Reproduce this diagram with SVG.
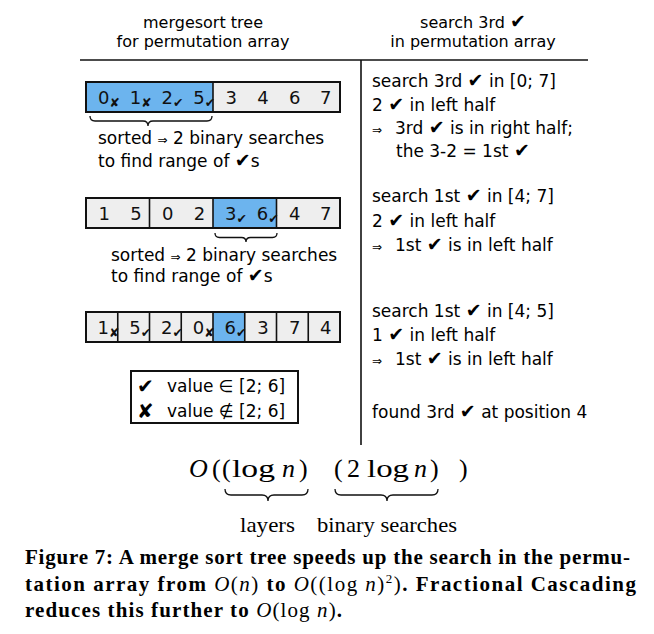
<svg xmlns="http://www.w3.org/2000/svg" width="654" height="634" viewBox="0 0 654 634">
<style>
.t{font-family:"DejaVu Sans",Verdana,sans-serif;font-size:17px;fill:#000}
.h{font-family:"DejaVu Sans",Verdana,sans-serif;font-size:16px;fill:#000}
.d{font-family:"DejaVu Sans",Verdana,sans-serif;font-size:18px;fill:#111}
.sub{font-size:12.5px}
.ck{font-size:19px}
.lk{font-size:20px}
.ar{font-size:12px}
.cell{fill:#eeeeee}
.blue{fill:#6cb4ee}
.box{fill:none;stroke:#111;stroke-width:2}
.div{stroke:#111;stroke-width:1.6}
.brace{fill:none;stroke:#111;stroke-width:1.3}
.m{font-family:"Liberation Serif","Times New Roman",serif;font-size:26px;fill:#000}
.i{font-style:italic}
.lbl{font-family:"Liberation Serif","Times New Roman",serif;font-size:21px;fill:#000}
.cap{font-family:"Liberation Serif","Times New Roman",serif;font-size:21px;font-weight:bold;fill:#000}
.nb{font-weight:normal}
</style>
<g id="headers">
<text class="h" x="203" y="28" text-anchor="middle">mergesort tree</text>
<text class="h" x="203" y="47" text-anchor="middle">for permutation array</text>
<text class="h" x="473" y="28" text-anchor="middle">search 3rd <tspan class="ck">✔</tspan></text>
<text class="h" x="473" y="47" text-anchor="middle">in permutation array</text>
</g>
<g id="connectors">
<line x1="80" y1="60" x2="588" y2="60" stroke="#111" stroke-width="1.6"/>
<line x1="361" y1="60" x2="361" y2="445" stroke="#111" stroke-width="1.6"/>
<path class="brace" d="M90,116 q0,5 5,5 h48 q5,0 5,5 q0,-5 5,-5 h54 q5,0 5,-5"/>
<path class="brace" d="M215,233 q0,4.5 4.5,4.5 h22 q4.5,0 4.5,4.5 q0,-4.5 4.5,-4.5 h22 q4.5,0 4.5,-4.5"/>
<path class="brace" d="M225,489 q0,6 6,6 h31 q6,0 6,6 q0,-6 6,-6 h28 q6,0 6,-6"/>
<path class="brace" d="M335,489 q0,6 6,6 h40 q6,0 6,6 q0,-6 6,-6 h39 q6,0 6,-6"/>
</g>
<g id="row1">
<rect class="cell" x="86" y="82" width="254" height="30"/>
<rect class="blue" x="86" y="82" width="127" height="30"/>
<rect class="box" x="86" y="82" width="254" height="30"/>
<line class="div" x1="213" y1="82" x2="213" y2="112"/>
<text class="d" x="98" y="103.5">0<tspan class="sub" dy="3">✘</tspan></text>
<text class="d" x="129.75" y="103.5">1<tspan class="sub" dy="3">✘</tspan></text>
<text class="d" x="161.5" y="103.5">2<tspan class="sub" dy="3">✔</tspan></text>
<text class="d" x="193.25" y="103.5">5<tspan class="sub" dy="3">✔</tspan></text>
<text class="d" x="225.5" y="103.5">3</text>
<text class="d" x="257.25" y="103.5">4</text>
<text class="d" x="289" y="103.5">6</text>
<text class="d" x="320" y="103.5">7</text>
<text class="t" x="98" y="144">sorted <tspan class="ar">⇒</tspan> 2 binary searches</text>
<text class="t" x="98" y="167">to find range of <tspan class="ck">✔</tspan>s</text>
</g>
<g id="row2">
<rect class="cell" x="86" y="198" width="254" height="30"/>
<rect class="blue" x="213" y="198" width="63.5" height="30"/>
<rect class="box" x="86" y="198" width="254" height="30"/>
<line class="div" x1="149.5" y1="198" x2="149.5" y2="228"/>
<line class="div" x1="213" y1="198" x2="213" y2="228"/>
<line class="div" x1="276.5" y1="198" x2="276.5" y2="228"/>
<text class="d" x="98.5" y="219.5">1</text>
<text class="d" x="130.25" y="219.5">5</text>
<text class="d" x="162" y="219.5">0</text>
<text class="d" x="193.75" y="219.5">2</text>
<text class="d" x="225" y="219.5">3<tspan class="sub" dy="3">✔</tspan></text>
<text class="d" x="256.75" y="219.5">6<tspan class="sub" dy="3">✔</tspan></text>
<text class="d" x="289" y="219.5">4</text>
<text class="d" x="320" y="219.5">7</text>
<text class="t" x="111" y="261">sorted <tspan class="ar">⇒</tspan> 2 binary searches</text>
<text class="t" x="111" y="282">to find range of <tspan class="ck">✔</tspan>s</text>
</g>
<g id="row3">
<rect class="cell" x="86" y="312" width="254" height="30"/>
<rect class="blue" x="213" y="312" width="31.75" height="30"/>
<rect class="box" x="86" y="312" width="254" height="30"/>
<line class="div" x1="117.75" y1="312" x2="117.75" y2="342"/>
<line class="div" x1="149.5" y1="312" x2="149.5" y2="342"/>
<line class="div" x1="181.25" y1="312" x2="181.25" y2="342"/>
<line class="div" x1="213" y1="312" x2="213" y2="342"/>
<line class="div" x1="244.75" y1="312" x2="244.75" y2="342"/>
<line class="div" x1="276.5" y1="312" x2="276.5" y2="342"/>
<line class="div" x1="308.25" y1="312" x2="308.25" y2="342"/>
<text class="d" x="97.5" y="333.5">1<tspan class="sub" dy="3">✘</tspan></text>
<text class="d" x="129.25" y="333.5">5<tspan class="sub" dy="3">✔</tspan></text>
<text class="d" x="161" y="333.5">2<tspan class="sub" dy="3">✔</tspan></text>
<text class="d" x="192.75" y="333.5">0<tspan class="sub" dy="3">✘</tspan></text>
<text class="d" x="224.5" y="333.5">6<tspan class="sub" dy="3">✔</tspan></text>
<text class="d" x="257.25" y="333.5">3</text>
<text class="d" x="289" y="333.5">7</text>
<text class="d" x="320" y="333.5">4</text>
</g>
<g id="legend">
<rect class="box" x="131" y="371" width="167" height="52"/>
<text class="t" x="137" y="393"><tspan class="lk">✔</tspan></text>
<text class="t" x="167" y="392">value ∈ [2; 6]</text>
<text class="t" x="137" y="418"><tspan class="lk">✘</tspan></text>
<text class="t" x="167" y="417">value ∉ [2; 6]</text>
</g>
<g id="search-steps">
<text class="t" x="372" y="87">search 3rd <tspan class="ck">✔</tspan> in [0; 7]</text>
<text class="t" x="372" y="110.5">2 <tspan class="ck">✔</tspan> in left half</text>
<text class="t" x="372" y="134"><tspan class="ar">⇒</tspan></text>
<text class="t" x="395" y="134">3rd <tspan class="ck">✔</tspan> is in right half;</text>
<text class="t" x="396" y="157">the 3-2 = 1st <tspan class="ck">✔</tspan></text>
<text class="t" x="372" y="202">search 1st <tspan class="ck">✔</tspan> in [4; 7]</text>
<text class="t" x="372" y="226.5">2 <tspan class="ck">✔</tspan> in left half</text>
<text class="t" x="372" y="251"><tspan class="ar">⇒</tspan></text>
<text class="t" x="395" y="251">1st <tspan class="ck">✔</tspan> is in left half</text>
<text class="t" x="372" y="317">search 1st <tspan class="ck">✔</tspan> in [4; 5]</text>
<text class="t" x="372" y="341">1 <tspan class="ck">✔</tspan> in left half</text>
<text class="t" x="372" y="365"><tspan class="ar">⇒</tspan></text>
<text class="t" x="395" y="365">1st <tspan class="ck">✔</tspan> is in left half</text>
<text class="t" x="372" y="418">found 3rd <tspan class="ck">✔</tspan> at position 4</text>
</g>
<g id="formula">
<text class="m i" x="189" y="477">O</text>
<text class="m" x="212" y="477">(</text>
<text class="m" x="222" y="477">(</text>
<text class="m" x="232" y="477" textLength="43" lengthAdjust="spacingAndGlyphs">log</text>
<text class="m i" x="282" y="477">n</text>
<text class="m" x="299" y="477">)</text>
<text class="m" x="334" y="477">(</text>
<text class="m" x="347" y="477">2</text>
<text class="m" x="367" y="477" textLength="42" lengthAdjust="spacingAndGlyphs">log</text>
<text class="m i" x="414" y="477">n</text>
<text class="m" x="430" y="477">)</text>
<text class="m" x="459" y="477">)</text>
<text class="lbl" x="240" y="532" textLength="55" lengthAdjust="spacingAndGlyphs">layers</text>
<text class="lbl" x="317" y="532" textLength="140" lengthAdjust="spacingAndGlyphs">binary searches</text>
</g>
<g id="caption">
<text class="cap" x="25" y="564" textLength="605" lengthAdjust="spacing">Figure 7: A merge sort tree speeds up the search in the permu-</text>
<text class="cap" x="25" y="591" textLength="611" lengthAdjust="spacing">tation array from <tspan class="nb i">O</tspan><tspan class="nb">(</tspan><tspan class="nb i">n</tspan><tspan class="nb">)</tspan> to <tspan class="nb i">O</tspan><tspan class="nb">((log </tspan><tspan class="nb i">n</tspan><tspan class="nb">)</tspan><tspan class="nb" font-size="13" dy="-8">2</tspan><tspan class="nb" dy="8">)</tspan>. Fractional Cascading</text>
<text class="cap" x="25" y="617" textLength="317" lengthAdjust="spacing">reduces this further to <tspan class="nb i">O</tspan><tspan class="nb">(log </tspan><tspan class="nb i">n</tspan><tspan class="nb">)</tspan>.</text>
</g>
</svg>
